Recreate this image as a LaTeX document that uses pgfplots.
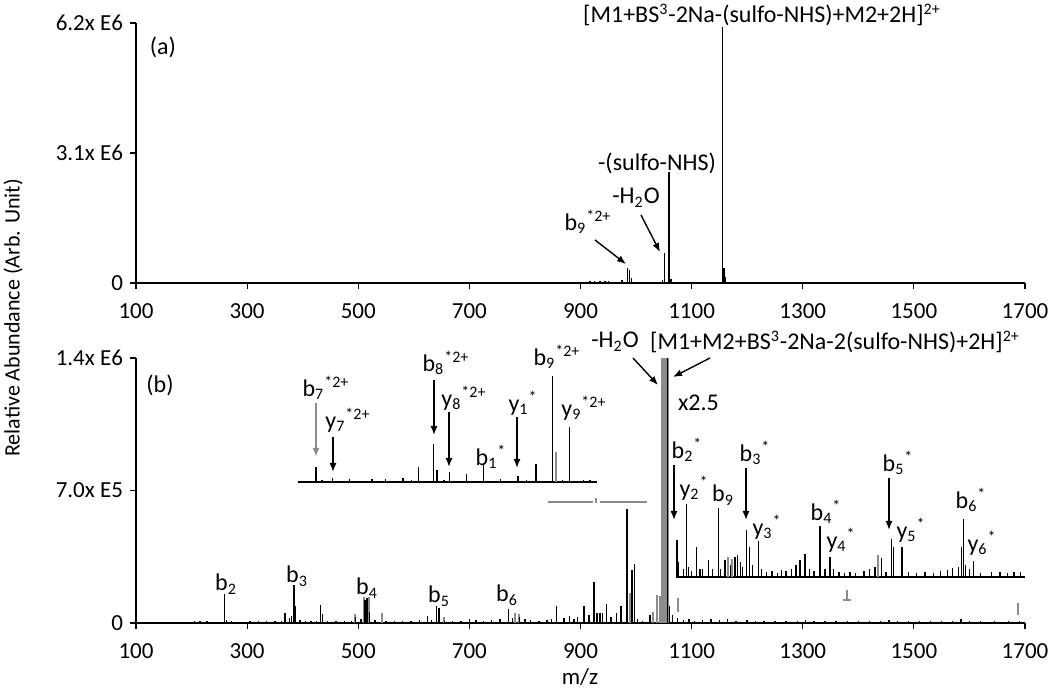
\documentclass[border=0pt]{standalone}
\usepackage{fontspec}
\setmainfont{Carlito}
\usepackage{pgfplots}
\pgfplotsset{compat=1.18}
\usetikzlibrary{arrows.meta}

\pgfplotsset{
 spec/.style={scale only axis, width=444.5pt, xmin=100, xmax=1700, ymin=0,
   axis lines*=left, xtick={100,300,...,1700}, tick align=outside,
   major tick length=3pt, axis line style={line width=0.8pt, black},
   tick style={black, line width=0.6pt},
   /pgf/number format/1000 sep={}, /pgf/number format/assume math mode=true,
   scaled y ticks=false, scaled x ticks=false,
   ticklabel style={font=\fontsize{11.5}{13}\selectfont},
   xticklabel style={yshift=-4pt},
   anchor=south west, clip=false},
 inset/.style={scale only axis, axis x line*=bottom, axis y line=none,
   xtick=\empty, ytick=\empty, ymin=0, anchor=south west, clip=false,
   axis line style={line width=0.8pt, black}},
 pk/.style={ycomb, black, line width=0.7pt, mark=none},
 gpk/.style={ycomb, black!45, line width=1pt, mark=none},
}

\begin{document}
\begin{tikzpicture}[font=\fontsize{12}{14}\selectfont]
\useasboundingbox (0,0) rectangle (525pt,345pt);

% ---------------- panel (a)
\begin{axis}[spec, at={(68pt,203.5pt)}, height=130pt, ymax=6.2e6,
  ytick={0,3.1e6,6.2e6}, yticklabels={0,3.1x E6,6.2x E6}]
\addplot[pk] coordinates {
(383,30000) (515,30000) (640,30000) (770,20000) (850,20000)
(917,50000) (925,40000) (935,50000) (944,40000) (950,50000) (958,30000) (975,60000)
(985,360000) (988,300000) (992,120000)
(1040,30000) (1048,60000) (1051,720000) (1058,1750000) (1059,2650000) (1060,1750000) (1063,100000)
(1150,30000) (1156,6100000) (1158,350000) (1161,150000) (1165,30000)
};
\end{axis}

% ---------------- panel (b)
\begin{axis}[spec, at={(68pt,33.5pt)}, height=132.5pt, ymax=1.4e6,
  ytick={0,7e5,1.4e6}, yticklabels={0,7.0x E5,1.4x E6}]
\addplot[gpk] coordinates {
(495,50000) (510,135000) (520,135000) (543,55000) (655,30000) (782,55000) (789,50000)
(989,160000) (1031,60000) (1038,150000) (1043,140000)
};
\addplot[ycomb, black!45, line width=4pt, mark=none] coordinates {(1052,1400000)};
\addplot[pk] coordinates {
(205,10000) (215,8000) (228,9000) (245,7000) (259,151000) (263,15000) (272,8000)
(290,7000) (305,9000) (320,8000) (335,10000) (350,9000) (362,12000) (368,55000)
(376,25000) (380,35000) (384,203000) (387,90000) (395,15000) (405,10000) (415,12000)
(425,10000) (432,95000) (436,45000) (445,8000) (460,10000) (475,9000) (488,12000)
(495,30000) (505,20000) (512,120000) (516,130000) (520,60000) (530,15000) (550,10000)
(565,9000) (580,12000) (595,10000) (610,15000) (625,35000) (632,15000) (641,90000)
(645,80000) (655,10000) (670,12000) (685,9000) (700,20000) (712,15000) (725,12000)
(740,15000) (755,20000) (770,73000) (778,25000) (790,30000) (800,20000) (810,15000)
(825,12000) (840,15000) (848,20000) (857,90000) (870,25000) (880,35000) (888,20000)
(895,30000) (906,90000) (915,40000) (924,217000) (930,55000) (935,55000) (940,55000)
(947,100000) (955,30000) (965,55000) (973,90000) (984,600000) (993,280000) (997,310000)
(1003,20000) (1012,10000) (1025,40000) (1057,1400000) (1060,90000) (1066,40000)
(1075,25000) (1085,15000) (1095,20000) (1105,10000) (1120,15000) (1135,20000)
(1150,15000) (1165,20000) (1180,12000) (1200,15000) (1215,10000) (1230,8000)
(1250,12000) (1270,8000) (1290,10000) (1305,15000) (1320,8000) (1340,10000)
(1360,8000) (1380,12000) (1400,8000) (1420,10000) (1440,12000) (1455,15000)
(1470,10000) (1490,8000) (1510,10000) (1530,12000) (1550,8000) (1570,10000)
(1585,20000) (1600,12000) (1620,8000) (1645,10000) (1670,8000) (1690,10000)
};
\end{axis}

% ---------------- left inset (region 836-1010)
\begin{axis}[inset, at={(149pt,104pt)}, width=149.5pt, height=55.2pt,
  xmin=836, xmax=1010, ymax=6.25e5]
\addplot[gpk] coordinates {(986,170000)};
\addplot[pk] coordinates {
(838,5000) (842,8000) (846.5,85000) (850,10000) (856,23000) (861,8000) (866,17000)
(872,6000) (879,17000) (884,8000) (887,17000) (892,8000) (897,23000) (902,10000)
(906,85000) (910,8000) (915,215000) (917,68000) (921,10000) (924,57000) (929,8000)
(934,45000) (939,8000) (944,96000) (949,6000) (954,17000) (959,8000) (964,34000)
(969,10000) (974.5,100000) (979,8000) (984,600000) (990,12000) (994,311000)
(998,8000) (1002,11000) (1006,11000)
};
\end{axis}

% ---------------- right inset (x2.5)
\begin{axis}[inset, at={(338pt,56.5pt)}, width=174.5pt, height=40pt,
  xmin=1072, xmax=1700, ymax=169000]
\addplot[gpk] coordinates {(1165,42000) (1172,38000) (1436,46000)};
\addplot[pk] coordinates {
(1074,78000) (1077,32000) (1085,17000) (1091,154000) (1095,21000) (1100,13000)
(1109,63000) (1115,17000) (1120,17000) (1130,36000) (1138,17000) (1148,146000)
(1152,17000) (1160,36000) (1170,25000) (1178,42000) (1183,46000) (1188,32000)
(1192,21000) (1199,99000) (1204,63000) (1210,25000) (1220,76000) (1226,17000)
(1235,10000) (1245,13000) (1255,8000) (1262,15000) (1270,13000) (1280,17000)
(1288,25000) (1295,36000) (1304,49000) (1312,17000) (1320,13000) (1331,108000)
(1340,17000) (1349,42000) (1355,17000) (1365,10000) (1375,8000) (1385,10000)
(1395,8000) (1410,13000) (1420,17000) (1430,21000) (1442,40000) (1450,10000)
(1460,80000) (1463,63000) (1479,63000) (1490,10000) (1505,8000) (1520,10000)
(1535,8000) (1548,13000) (1560,15000) (1570,19000) (1580,21000) (1586,63000)
(1589,123000) (1593,25000) (1600,17000) (1607,34000) (1620,8000) (1640,10000)
(1655,10000) (1668,8000) (1680,10000) (1692,10000)
};
\end{axis}

% ---------------- annotations in pixel coordinates
\begin{scope}[x=0.5pt, y=-0.5pt, shift={(0pt,345pt)}]
\tikzset{arr/.style={-{Latex[length=4.5pt,width=3.5pt]}, line width=0.7pt, black},
         garr/.style={-{Latex[length=4.5pt,width=3.5pt]}, line width=0.9pt, black!45}}
\node[rotate=90, font=\fontsize{11}{13}\selectfont] at (13,318) {Relative Abundance (Arb. Unit)};
\node[font=\fontsize{11.5}{13}\selectfont] at (580,677) {m/z};

% panel (a)
\node at (163,47) {(a)};
\node at (762,15) {[M1+BS\textsuperscript{3}-2Na-(sulfo-NHS)+M2+2H]\textsuperscript{2+}};
\node at (657,163) {-(sulfo-NHS)};
\node at (636,198) {-H\textsubscript{2}O};
\node at (588,222) {b\textsubscript{9}\textsuperscript{*2+}};
\draw[arr] (595,240) -- (626,264);
\draw[arr] (641,215) -- (660,252);

% panel (b)
\node at (160,385) {(b)};
\node at (615,342) {-H\textsubscript{2}O};
\node at (835,342) {[M1+M2+BS\textsuperscript{3}-2Na-2(sulfo-NHS)+2H]\textsuperscript{2+}};
\draw[arr] (633,358) -- (658,385);
\draw[arr] (710,358) -- (673,377);
\node[anchor=west] at (671,403) {x2.5};

% right inset labels
\node at (687,450) {b\textsubscript{2}\textsuperscript{*}};
\draw[arr] (674,465) -- (674,520);
\node at (694,488) {y\textsubscript{2}\textsuperscript{*}};
\node at (723,495) {b\textsubscript{9}};
\node at (755,453) {b\textsubscript{3}\textsuperscript{*}};
\draw[arr] (746,468) -- (746,520);
\node at (767,527) {y\textsubscript{3}\textsuperscript{*}};
\node at (826,512) {b\textsubscript{4}\textsuperscript{*}};
\node at (841,540) {y\textsubscript{4}\textsuperscript{*}};
\node at (898,463) {b\textsubscript{5}\textsuperscript{*}};
\draw[arr] (889,478) -- (889,530);
\node at (911,530) {y\textsubscript{5}\textsuperscript{*}};
\node at (971,500) {b\textsubscript{6}\textsuperscript{*}};
\node at (982,543) {y\textsubscript{6}\textsuperscript{*}};

% left inset labels
\node at (326,388) {b\textsubscript{7}\textsuperscript{*2+}};
\draw[garr] (316,403) -- (316,457);
\node at (348,420) {y\textsubscript{7}\textsuperscript{*2+}};
\draw[arr] (333,437) -- (333,472);
\node at (446,363) {b\textsubscript{8}\textsuperscript{*2+}};
\draw[arr] (434,380) -- (434,435);
\node at (464,398) {y\textsubscript{8}\textsuperscript{*2+}};
\draw[arr] (449,412) -- (449,467);
\node at (491,457) {b\textsubscript{1}\textsuperscript{*}};
\node at (523,403) {y\textsubscript{1}\textsuperscript{*}};
\draw[arr] (517,417) -- (517,468);
\node at (557,357) {b\textsubscript{9}\textsuperscript{*2+}};
\node at (584,408) {y\textsubscript{9}\textsuperscript{*2+}};

% main b-ion labels
\node at (226,584) {b\textsubscript{2}};
\node at (297,576) {b\textsubscript{3}};
\node at (367,588) {b\textsubscript{4}};
\node at (439,596) {b\textsubscript{5}};
\node at (507,595) {b\textsubscript{6}};

% region markers
\draw[black!45, line width=0.8pt] (548,502) -- (593,502) (600,502) -- (647,502);
\draw[black!45, line width=0.6pt] (596,498) -- (596,503);
\draw[black!45, line width=0.6pt] (678,598) -- (678,612);
\draw[black!45, line width=0.6pt] (847,590) -- (847,600) (843,600) -- (851,600);
\draw[black!45, line width=0.6pt] (1018,603) -- (1018,615);
\end{scope}
\end{tikzpicture}
\end{document}
